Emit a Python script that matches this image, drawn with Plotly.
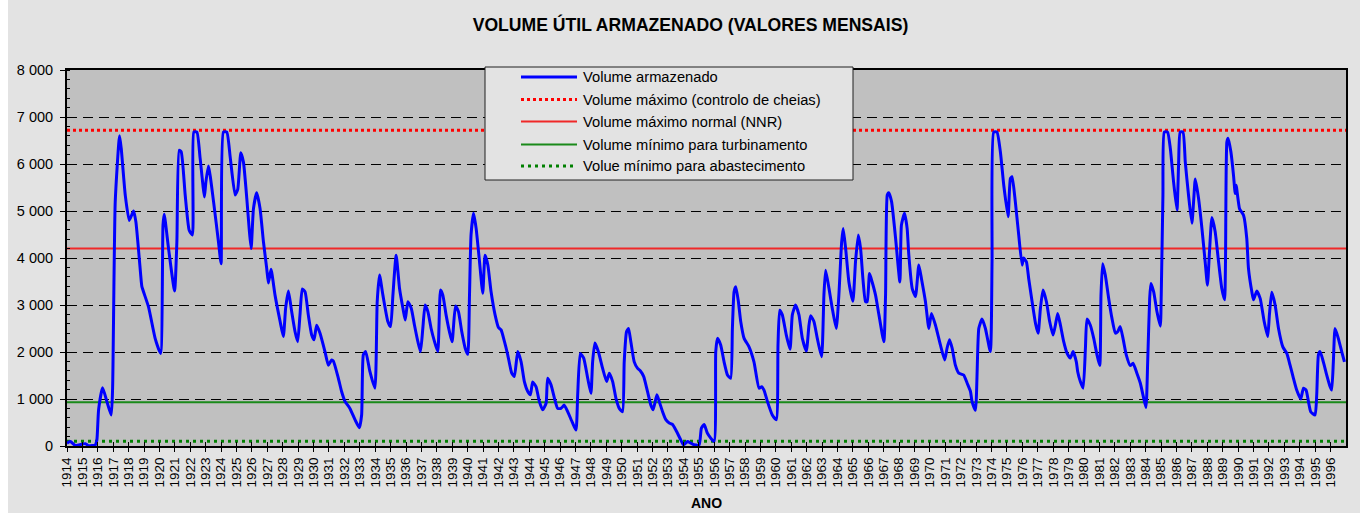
import plotly.graph_objects as go

# ---- data ----
years = [
    1914.00, 1914.22, 1914.54, 1915.19, 1915.40, 1915.84, 1915.94, 1916.05, 1916.31, 1916.59,
    1916.87, 1916.96, 1917.13, 1917.41, 1917.52, 1917.78, 1918.04, 1918.32, 1918.47, 1918.82,
    1918.86, 1919.29, 1919.72, 1920.07, 1920.23, 1920.31, 1920.59, 1920.98, 1921.13, 1921.28,
    1921.41, 1921.67, 1921.93, 1922.14, 1922.23, 1922.43, 1922.64, 1922.92, 1923.01, 1923.18,
    1923.51, 1923.83, 1924.00, 1924.15, 1924.37, 1924.59, 1924.91, 1925.08, 1925.28, 1925.45,
    1925.67, 1925.82, 1925.95, 1926.10, 1926.31, 1926.53, 1926.75, 1926.96, 1927.07, 1927.24,
    1927.50, 1927.83, 1928.04, 1928.19, 1928.37, 1928.58, 1928.80, 1928.97, 1929.12, 1929.27,
    1929.45, 1929.66, 1929.88, 1930.03, 1930.20, 1930.42, 1930.74, 1930.96, 1931.17, 1931.28,
    1931.61, 1931.82, 1932.04, 1932.36, 1932.69, 1932.97, 1933.12, 1933.23, 1933.38, 1933.66,
    1933.98, 1934.13, 1934.28, 1934.50, 1934.82, 1935.00, 1935.15, 1935.36, 1935.58, 1935.80,
    1935.95, 1936.12, 1936.34, 1936.55, 1936.77, 1936.94, 1937.09, 1937.24, 1937.42, 1937.63,
    1937.85, 1938.06, 1938.24, 1938.39, 1938.60, 1938.82, 1938.99, 1939.21, 1939.40, 1939.62,
    1939.84, 1940.01, 1940.12, 1940.22, 1940.38, 1940.55, 1940.77, 1940.98, 1941.13, 1941.31,
    1941.52, 1941.78, 1942.00, 1942.17, 1942.39, 1942.60, 1942.86, 1943.03, 1943.25, 1943.47,
    1943.68, 1943.90, 1944.07, 1944.22, 1944.44, 1944.65, 1944.87, 1945.09, 1945.19, 1945.41,
    1945.63, 1945.84, 1946.06, 1946.27, 1946.49, 1946.81, 1947.03, 1947.14, 1947.31, 1947.53,
    1947.79, 1948.00, 1948.11, 1948.26, 1948.48, 1948.76, 1949.02, 1949.19, 1949.41, 1949.62,
    1949.84, 1950.05, 1950.16, 1950.31, 1950.44, 1950.59, 1950.81, 1951.03, 1951.20, 1951.42,
    1951.67, 1951.89, 1952.04, 1952.28, 1952.43, 1952.65, 1952.86, 1953.08, 1953.29, 1953.51,
    1953.83, 1954.01, 1954.27, 1954.48, 1954.70, 1955.02, 1955.17, 1955.35, 1955.56, 1955.99,
    1956.10, 1956.21, 1956.42, 1956.64, 1956.86, 1957.07, 1957.18, 1957.29, 1957.40, 1957.57,
    1957.72, 1957.94, 1958.26, 1958.58, 1958.91, 1959.08, 1959.23, 1959.45, 1959.77, 1960.03,
    1960.14, 1960.25, 1960.42, 1960.68, 1960.92, 1961.07, 1961.28, 1961.50, 1961.72, 1961.98,
    1962.15, 1962.26, 1962.47, 1962.69, 1962.97, 1963.12, 1963.23, 1963.45, 1963.66, 1963.92,
    1964.09, 1964.27, 1964.37, 1964.53, 1964.74, 1965.00, 1965.17, 1965.35, 1965.50, 1965.65,
    1965.82, 1965.93, 1966.08, 1966.25, 1966.47, 1966.69, 1967.01, 1967.12, 1967.23, 1967.33,
    1967.51, 1967.77, 1968.05, 1968.15, 1968.35, 1968.52, 1968.63, 1968.85, 1969.06, 1969.28,
    1969.45, 1969.71, 1969.93, 1970.10, 1970.36, 1970.68, 1970.96, 1971.11, 1971.27, 1971.44,
    1971.65, 1971.87, 1972.19, 1972.41, 1972.63, 1972.73, 1972.95, 1973.17, 1973.38, 1973.60,
    1973.92, 1974.03, 1974.14, 1974.35, 1974.57, 1974.79, 1975.07, 1975.22, 1975.33, 1975.54,
    1975.76, 1975.98, 1976.08, 1976.26, 1976.41, 1976.63, 1976.85, 1977.02, 1977.17, 1977.34,
    1977.56, 1977.77, 1977.99, 1978.14, 1978.29, 1978.47, 1978.68, 1978.90, 1979.11, 1979.29,
    1979.50, 1979.59, 1979.76, 1979.94, 1980.09, 1980.19, 1980.41, 1980.63, 1980.84, 1981.02,
    1981.10, 1981.21, 1981.38, 1981.60, 1981.81, 1982.03, 1982.18, 1982.35, 1982.53, 1982.74,
    1983.00, 1983.18, 1983.43, 1983.65, 1983.87, 1984.02, 1984.13, 1984.26, 1984.34, 1984.52,
    1984.73, 1984.95, 1985.01, 1985.12, 1985.21, 1985.42, 1985.60, 1985.81, 1986.03, 1986.14,
    1986.24, 1986.42, 1986.57, 1986.78, 1987.00, 1987.11, 1987.22, 1987.43, 1987.65, 1987.86,
    1988.01, 1988.14, 1988.30, 1988.51, 1988.73, 1988.94, 1989.12, 1989.18, 1989.27, 1989.35,
    1989.53, 1989.70, 1989.81, 1989.87, 1990.09, 1990.35, 1990.56, 1990.67, 1990.89, 1991.00,
    1991.21, 1991.43, 1991.69, 1991.92, 1992.03, 1992.18, 1992.40, 1992.62, 1992.90, 1993.16,
    1993.37, 1993.59, 1993.80, 1994.06, 1994.24, 1994.41, 1994.56, 1994.71, 1994.99, 1995.10,
    1995.21, 1995.32, 1995.53, 1995.75, 1995.97, 1996.07, 1996.18, 1996.29, 1996.50, 1996.72,
    1996.90,
]

volume = [
    60, 95, 10, 50, 5, 25, 130, 770, 1240, 945,
    660, 1230, 5200, 6600, 6330, 5340, 4800, 5000, 4770, 3500,
    3390, 2960, 2290, 1970, 4700, 4930, 4200, 3300, 4340, 6290,
    6260, 5340, 4590, 4490, 6680, 6680, 6120, 5300, 5610, 5960,
    5200, 4340, 3880, 6680, 6680, 6150, 5340, 5460, 6240, 6040,
    5260, 4630, 4200, 5050, 5390, 5050, 4340, 3780, 3470, 3760,
    3210, 2650, 2330, 2940, 3300, 2860, 2430, 2220, 2790, 3340,
    3280, 2790, 2360, 2260, 2570, 2400, 2010, 1720, 1830, 1810,
    1440, 1160, 950, 800, 560, 390, 660, 1940, 2010, 1580,
    1230, 3070, 3640, 3210, 2650, 2540, 3210, 4060, 3350, 2930,
    2680, 3070, 2930, 2570, 2220, 2010, 2500, 3000, 2860, 2500,
    2220, 2010, 3320, 3210, 2790, 2430, 2220, 2980, 2860, 2430,
    2080, 1950, 3210, 4490, 4950, 4630, 3920, 3250, 4060, 3850,
    3280, 2790, 2520, 2470, 2220, 1940, 1550, 1480, 2010, 1790,
    1370, 1160, 1090, 1360, 1260, 950, 770, 910, 1440, 1300,
    1020, 800, 800, 870, 730, 490, 340, 1090, 1970, 1870,
    1440, 1120, 1790, 2190, 2010, 1650, 1370, 1550, 1370, 1020,
    800, 730, 1790, 2430, 2500, 2220, 1790, 1650, 1600, 1480,
    1160, 870, 770, 1090, 950, 730, 560, 490, 460, 340,
    130, 25, 95, 60, 25, 25, 380, 460, 270, 95,
    2010, 2290, 2150, 1790, 1510, 1440, 2500, 3280, 3390, 3070,
    2650, 2290, 2110, 1790, 1230, 1260, 1190, 950, 660, 560,
    2150, 2890, 2790, 2360, 2060, 2790, 3000, 2790, 2290, 2020,
    2570, 2770, 2650, 2290, 1900, 3210, 3740, 3350, 2930, 2500,
    3210, 4340, 4630, 4200, 3490, 3080, 3920, 4490, 4200, 3560,
    3070, 3070, 3670, 3490, 3210, 2790, 2220, 3210, 5340, 5390,
    5200, 4420, 3490, 4700, 4950, 4630, 4060, 3350, 3180, 3850,
    3560, 3070, 2500, 2820, 2570, 2150, 1830, 2080, 2260, 2080,
    1720, 1550, 1510, 1340, 1160, 950, 760, 2500, 2700, 2500,
    2010, 3920, 6680, 6680, 6260, 5550, 4880, 5690, 5730, 5200,
    4490, 3850, 4000, 3920, 3560, 3070, 2610, 2400, 2930, 3320,
    3070, 2650, 2360, 2570, 2820, 2570, 2220, 1970, 1870, 2010,
    1790, 1580, 1370, 1230, 2080, 2700, 2570, 2290, 1940, 1710,
    3210, 3880, 3640, 3140, 2720, 2400, 2430, 2540, 2290, 1940,
    1710, 1760, 1550, 1340, 1020, 820, 1790, 3140, 3460, 3280,
    2860, 2550, 3210, 5340, 6680, 6680, 6330, 5620, 5020, 6040,
    6680, 6680, 6040, 5340, 4740, 5200, 5680, 5270, 4630, 3920,
    3420, 4130, 4860, 4560, 3920, 3350, 3110, 3920, 6470, 6550,
    6260, 5760, 5370, 5550, 5050, 4910, 4420, 3780, 3280, 3110,
    3300, 3140, 2650, 2330, 2790, 3270, 3000, 2500, 2110, 1970,
    1720, 1440, 1190, 1000, 1230, 1190, 950, 730, 660, 1090,
    1940, 2010, 1790, 1510, 1260, 1190, 1790, 2500, 2290, 2010,
    1790,
]

year_ticks = list(range(1914, 1997))
y_ticks = list(range(0, 8001, 1000))

limit_names = [
    "Volume máximo (controlo de cheias)",
    "Volume máximo normal (NNR)",
    "Volume mínimo para turbinamento",
    "Volue mínimo para abastecimento",
]
limit_values = [6720, 4200, 930, 100]
limit_span = [1914, 1997]

series_name = "Volume armazenado"
title_text = "VOLUME ÚTIL ARMAZENADO (VALORES MENSAIS)"
x_title = "ANO"

# ---- styles ----
series_style = dict(color="#0000FF", width=3, shape="spline", smoothing=0.5)
limit_styles = [
    dict(color="#FF0000", width=3, dash="3px,3px"),
    dict(color="#F02828", width=2, dash="solid"),
    dict(color="#1A8A1A", width=2, dash="solid"),
    dict(color="#008000", width=3, dash="3px,4px"),
]

FONT = "Liberation Sans, Arial, sans-serif"
W, H = 1360, 513
ML, MR, MT, MB = 67, 14, 70, 67
PW, PH = W - ML - MR, H - MT - MB


def px_x(px):
    return (px - ML) / PW


def px_y(py):
    return (H - MB - py) / PH


fig = go.Figure()

for i, (name, val) in enumerate(zip(limit_names, limit_values)):
    fig.add_trace(go.Scatter(
        x=limit_span, y=[val, val], mode="lines", name=name,
        line=limit_styles[i], showlegend=False, hoverinfo="skip",
    ))

fig.add_trace(go.Scatter(
    x=years, y=volume, mode="lines", name=series_name,
    line=series_style, showlegend=False,
))

# helper trace for the overlay axis (inner tick marks on the x axis)
fig.add_trace(go.Scatter(x=limit_span, y=[None, None], xaxis="x2", showlegend=False,
                         hoverinfo="skip", mode="lines"))

fig.update_layout(
    width=W, height=H,
    margin=dict(l=ML, r=MR, t=MT, b=MB),
    paper_bgcolor="#E3E3E3",
    plot_bgcolor="#C0C0C0",
    font=dict(family=FONT, color="black", size=14),
    title=dict(text="<b>" + title_text + "</b>", x=690.5 / W, xanchor="center",
               y=1 - 25 / H, yanchor="middle",
               font=dict(size=17.6, family=FONT, color="black")),
    showlegend=False,
    xaxis=dict(
        range=[1914, 1997], tickmode="array", tickvals=year_ticks,
        ticktext=[str(y) for y in year_ticks], tickangle=-90,
        tickfont=dict(size=13.5, family=FONT, color="black"),
        ticks="outside", ticklen=4, tickwidth=1, tickcolor="black",
        showgrid=False, zeroline=False,
        showline=True, linecolor="black", linewidth=2, mirror=True,
        title=dict(text="<b>" + x_title + "</b>", standoff=12,
                   font=dict(size=14, family=FONT, color="black")),
        automargin=False,
    ),
    xaxis2=dict(
        range=[1914, 1997], overlaying="x", anchor="y", side="bottom",
        tickmode="array", tickvals=year_ticks, ticks="inside", ticklen=4,
        tickcolor="black", showticklabels=False, showgrid=False,
        zeroline=False, showline=False,
    ),
    yaxis=dict(
        range=[0, 8000], tickmode="array", tickvals=y_ticks,
        ticktext=[f"{v:,}".replace(",", " ") for v in y_ticks],
        tickfont=dict(size=14.5, family=FONT, color="black"),
        ticks="outside", ticklen=5, tickwidth=1, tickcolor="black",
        minor=dict(dtick=200, ticks="inside", ticklen=3, tickcolor="black",
                   showgrid=False),
        showgrid=True, gridcolor="black", gridwidth=1, griddash="10px,6px",
        zeroline=False,
        showline=True, linecolor="black", linewidth=2, mirror=True,
        ticklabelstandoff=4,
        automargin=False,
    ),
)

# white strip on the far left of the picture
fig.add_shape(type="rect", xref="paper", yref="paper",
              x0=px_x(0), x1=px_x(8), y0=px_y(H), y1=px_y(0),
              fillcolor="white", line_width=0, layer="below")

# ---- legend box (drawn as shapes + text) ----
fig.add_shape(type="rect", xref="paper", yref="paper",
              x0=px_x(485), x1=px_x(853), y0=px_y(180), y1=px_y(67),
              fillcolor="#E3E3E3", line=dict(color="#202020", width=1), layer="above")

legend_names = [series_name] + limit_names
legend_styles = [dict(color=series_style["color"], width=3, dash="solid")] + limit_styles
legend_rows = [77, 99.5, 121.5, 144.5, 166]
for name, style, row in zip(legend_names, legend_styles, legend_rows):
    fig.add_shape(type="line", xref="paper", yref="paper",
                  x0=px_x(521), x1=px_x(577), y0=px_y(row), y1=px_y(row),
                  line=style, layer="above")
    fig.add_annotation(text=name, xref="paper", yref="paper",
                       x=px_x(581), y=px_y(row), xanchor="left", yanchor="middle",
                       showarrow=False, font=dict(size=14.7, family=FONT, color="black"))

fig.write_html("out.html", config={"displayModeBar": False},
               post_script="document.body.style.margin='0';")
